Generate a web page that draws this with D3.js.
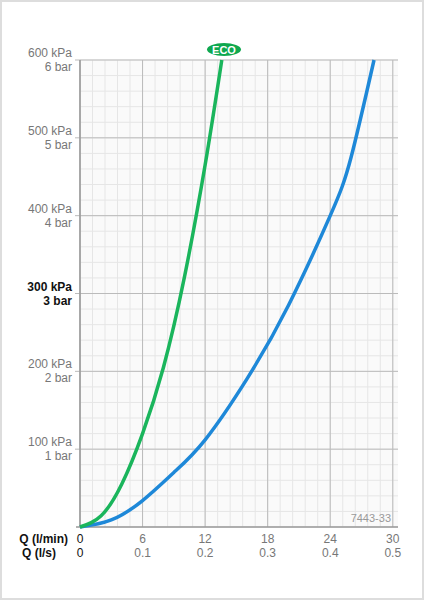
<!DOCTYPE html>
<html><head><meta charset="utf-8">
<script src="https://cdn.jsdelivr.net/npm/d3@7"></script>
<style>body{margin:0;background:#fff}</style>
</head><body>
<svg id="chart" width="424" height="600"></svg>
<script>
const ecoCurve = [[0,0],[2,14],[4,55],[6,120],[8,205],[10,320],[12,465],[13.6,600]]
const stdCurve = [[0,0],[3,9],[6,34],[9,70],[12,112],[16,190],[20,285],[24,400],[26,475],[28.2,600]]
const xTicks = [0, 6, 12, 18, 24, 30]
const xTicksLs = ['0', '0.1', '0.2', '0.3', '0.4', '0.5']
const yTicks = [100, 200, 300, 400, 500, 600]

const svg = d3.select('#chart')
svg.append('rect').attr('x', 1).attr('y', 1).attr('width', 422).attr('height', 598)
	.attr('fill', '#fff').attr('stroke', '#ddd').attr('stroke-width', 2)

const x = d3.scaleLinear().domain([0, 30.5]).range([80, 398])
const y = d3.scaleLinear().domain([0, 600]).range([527, 60])

svg.append('rect').attr('x', 80).attr('y', 60).attr('width', 318).attr('height', 467).attr('fill', '#fafafa')

const g = svg.append('g')
// minor grid
g.selectAll('.vm').data(d3.range(0, 30.6, 1.2)).enter().append('line')
	.attr('x1', d => x(d)).attr('x2', d => x(d)).attr('y1', 60).attr('y2', 527)
	.attr('stroke', '#e6e6e6')
g.selectAll('.hm').data(d3.range(0, 601, 20)).enter().append('line')
	.attr('y1', d => y(d)).attr('y2', d => y(d)).attr('x1', 80).attr('x2', 398)
	.attr('stroke', '#e6e6e6')
// major grid
g.selectAll('.vM').data(xTicks).enter().append('line')
	.attr('x1', d => x(d)).attr('x2', d => x(d)).attr('y1', 60).attr('y2', 527)
	.attr('stroke', '#bbb')
g.selectAll('.hM').data(yTicks).enter().append('line')
	.attr('y1', d => y(d)).attr('y2', d => y(d)).attr('x1', 75).attr('x2', 398)
	.attr('stroke', '#bbb')
g.append('line').attr('x1', 80).attr('x2', 80).attr('y1', 60).attr('y2', 527).attr('stroke', '#999').attr('stroke-width', 1.5)
g.append('line').attr('x1', 76).attr('x2', 398).attr('y1', 527).attr('y2', 527).attr('stroke', '#999').attr('stroke-width', 1.5)

const line = d3.line().x(d => x(d[0])).y(d => y(d[1])).curve(d3.curveNatural)
svg.append('path').datum(stdCurve).attr('d', line).attr('fill', 'none').attr('stroke', '#1e88d8').attr('stroke-width', 3.5)
svg.append('path').datum(ecoCurve).attr('d', line).attr('fill', 'none').attr('stroke', '#1ab55c').attr('stroke-width', 3.5)

const font = 'Liberation Sans, Arial, sans-serif'
yTicks.forEach(v => {
	const bold = v === 300
	const t = svg.append('text').attr('text-anchor', 'end').attr('font-family', font).attr('font-size', 12)
		.attr('fill', bold ? '#111' : '#777').attr('font-weight', bold ? 'bold' : 'normal')
	t.append('tspan').attr('x', 72).attr('y', y(v) - 3).text(v + ' kPa')
	t.append('tspan').attr('x', 72).attr('y', y(v) + 11).text(v / 100 + ' bar')
})
xTicks.forEach((v, i) => {
	svg.append('text').attr('x', x(v)).attr('y', 543).attr('text-anchor', 'middle').attr('font-family', font)
		.attr('font-size', 12).attr('fill', v === 0 ? '#111' : '#777').text(v)
	svg.append('text').attr('x', x(v)).attr('y', 557).attr('text-anchor', 'middle').attr('font-family', font)
		.attr('font-size', 12).attr('fill', v === 0 ? '#111' : '#777').text(xTicksLs[i])
})
svg.append('text').attr('x', 68).attr('y', 543).attr('text-anchor', 'end').attr('font-family', font)
	.attr('font-size', 12).attr('font-weight', 'bold').attr('fill', '#111').text('Q (l/min)')
svg.append('text').attr('x', 56).attr('y', 557).attr('text-anchor', 'end').attr('font-family', font)
	.attr('font-size', 12).attr('font-weight', 'bold').attr('fill', '#111').text('Q (l/s)')

svg.append('text').attr('x', 391).attr('y', 522).attr('text-anchor', 'end').attr('font-family', font)
	.attr('font-size', 11).attr('fill', '#999').text('7443-33')

svg.append('ellipse').attr('cx', 224).attr('cy', 49.5).attr('rx', 17).attr('ry', 6.5).attr('fill', '#0fa84f')
svg.append('text').attr('x', 224).attr('y', 53.5).attr('text-anchor', 'middle').attr('font-family', font)
	.attr('font-size', 11).attr('font-weight', 'bold').attr('fill', '#fff').text('ECO')
</script>
</body></html>
